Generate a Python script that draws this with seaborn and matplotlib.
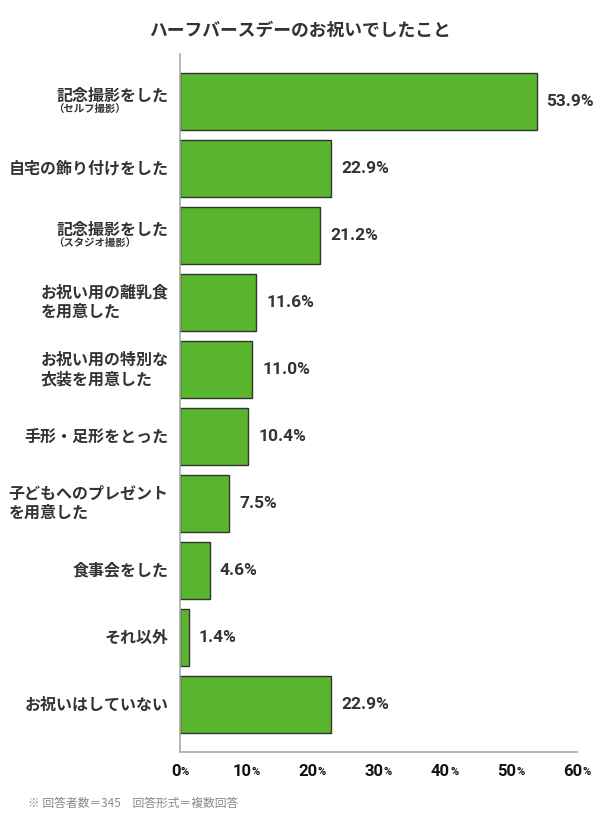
import pandas as pd
import matplotlib
matplotlib.use("Agg")
import matplotlib.pyplot as plt
import seaborn as sns

labels = ["記念撮影をした", "自宅の飾り付けをした", "記念撮影をした",
          "お祝い用の離乳食\nを用意した", "お祝い用の特別な\n衣装を用意した",
          "手形・足形をとった", "子どもへのプレゼント\nを用意した",
          "食事会をした", "それ以外", "お祝いはしていない"]
notes = ["（セルフ撮影）", "", "（スタジオ撮影）", "", "", "", "", "", "", ""]
values = [53.9, 22.9, 21.2, 11.6, 11.0, 10.4, 7.5, 4.6, 1.4, 22.9]
xticks = [0, 10, 20, 30, 40, 50, 60]

title = "ハーフバースデーのお祝いでしたこと"
footnote = "※ 回答者数＝345　回答形式＝複数回答"

df = pd.DataFrame({"item": [l + n for l, n in zip(labels, notes)], "value": values})

sns.set_theme(style="white")
plt.rcParams["font.family"] = ["Noto Sans CJK JP", "DejaVu Sans"]
num_font = ["Roboto", "Noto Sans CJK JP"]

fig = plt.figure(figsize=(6, 8.3), dpi=100)
ax = fig.add_axes([0.2992, 0.0940, 0.6625, 0.8409])

sns.barplot(data=df, x="value", y="item", order=df["item"], color="#5ab52e",
            saturation=1, edgecolor="#333333", linewidth=1, width=0.85, ax=ax)

ax.set_xlim(0, 60)
ax.set_ylim(9.71, -0.71)
ax.set_xlabel("")
ax.set_ylabel("")
ax.set_yticks([])
ax.set_xticks(xticks)
ax.set_xticklabels([])
ax.tick_params(axis="x", direction="in", length=9, width=1, color="#aaaaaa")

for s in ["top", "right"]:
    ax.spines[s].set_visible(False)
for s in ["left", "bottom"]:
    ax.spines[s].set_color("#aaaaaa")
    ax.spines[s].set_linewidth(1.2)

# category labels (left), with optional small note line
for i, (lab, note) in enumerate(zip(labels, notes)):
    dy = 6 if note else 0
    t = ax.annotate(lab, xy=(0, i), xycoords=("axes fraction", "data"),
                    xytext=(-11, dy), textcoords="offset pixels",
                    ha="right", va="center", ma="left", fontsize=11.5,
                    fontweight="bold", color="#333333", linespacing=1.25)
    if note:
        ax.annotate(note, xy=(0, 0), xycoords=t, xytext=(-3, 0),
                    textcoords="offset pixels", ha="left", va="top",
                    fontsize=7.5, fontweight="bold", color="#333333")

# value labels
for i, v in enumerate(values):
    ax.annotate(f"{v:.1f}%", xy=(v, i), xytext=(10, 0), textcoords="offset pixels",
                ha="left", va="center", fontsize=12.5, fontweight="bold",
                color="#333333", family=num_font)

# x tick labels: bold number with smaller %
for x in xticks:
    t = ax.annotate(f"{x}", xy=(x, 0), xycoords=("data", "axes fraction"),
                    xytext=(-4, -20), textcoords="offset pixels",
                    ha="center", va="center", fontsize=12, fontweight="bold",
                    color="#111111", family=num_font)
    ax.annotate("%", xy=(1, 0), xycoords=t, xytext=(0, 2), textcoords="offset pixels",
                ha="left", va="bottom", fontsize=8, fontweight="bold",
                color="#111111", family=num_font)

fig.text(0.5, 1 - 31 / 830, title, ha="center", va="center", fontsize=12.8,
         fontweight="bold", color="#333333")
fig.text(28 / 600, 1 - 803 / 830, footnote, ha="left", va="center", fontsize=8.5,
         color="#888888")

fig.savefig("out.png", dpi=100)
